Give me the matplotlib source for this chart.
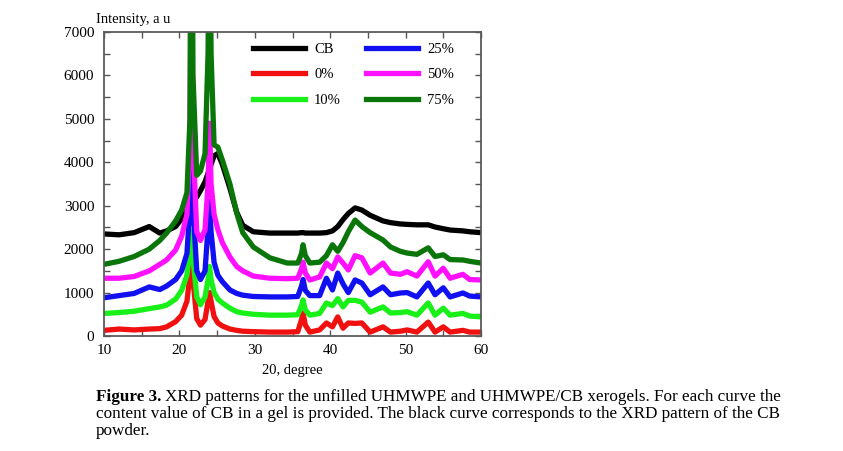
import numpy as np
import matplotlib.pyplot as plt
from matplotlib.ticker import MultipleLocator

plt.rcParams['font.family'] = ['Liberation Serif', 'DejaVu Serif']

# 2theta grid (degree)
two_theta = [10, 12, 14, 16, 17.4, 18.3, 19.5, 20.3, 21.0, 21.4, 21.6, 21.8, 22.3, 22.8,
             23.4, 23.8, 24.0, 24.2, 24.6, 25.1, 25.7, 26.7, 27.6, 28.4, 29.8, 32, 34.3,
             35.7, 36.2, 36.4, 36.7, 37.3, 38.6, 39.5, 40.3, 41.0, 41.7, 42.4, 43.3, 44.2,
             45.3, 47.0, 48.0, 49.3, 50.2, 51.5, 53.0, 53.9, 55.0, 55.9, 57.6, 58.5, 60]

cb = [2350, 2330, 2380, 2520, 2370, 2420, 2520, 2700, 2900, 3000, 3050, 3100, 3200, 3350,
      3550, 3750, 3850, 3950, 4150, 4200, 3950, 3400, 2850, 2550, 2400, 2370, 2370,
      2370, 2380, 2380, 2370, 2370, 2370, 2380, 2420, 2520, 2680, 2820, 2950, 2900,
      2780, 2650, 2610, 2580, 2570, 2560, 2560, 2510, 2470, 2440, 2420, 2400, 2380]

p0 = [130, 160, 140, 160, 170, 210, 330, 480, 800, 1400, 2000, 1300, 400, 250,
      380, 800, 1000, 800, 450, 300, 230, 160, 130, 110, 100, 90, 90,
      100, 380, 530, 250, 90, 140, 300, 210, 440, 180, 300, 290, 300,
      90, 210, 90, 110, 140, 90, 320, 90, 210, 90, 130, 90, 90]

p10 = [520, 540, 570, 630, 670, 710, 850, 1050, 1400, 2000, 2400, 1800, 900, 720,
       900, 1300, 1600, 1300, 1000, 850, 760, 640, 560, 530, 500, 480, 480,
       490, 700, 830, 600, 480, 520, 760, 700, 860, 670, 820, 820, 780,
       550, 670, 530, 540, 560, 480, 760, 480, 640, 480, 520, 460, 440]

p25 = [880, 930, 980, 1130, 1070, 1150, 1300, 1500, 1900, 3000, 4200, 3000, 1500, 1300,
       1500, 2500, 3100, 2400, 1700, 1400, 1250, 1060, 980, 940, 910, 900, 900,
       910, 1150, 1300, 1050, 930, 930, 1330, 1060, 1450, 1200, 1000, 1290, 1220,
       950, 1130, 950, 990, 1000, 900, 1220, 950, 1110, 900, 990, 920, 900]

p50 = [1330, 1330, 1370, 1500, 1650, 1750, 1980, 2300, 2800, 4500, 9000, 4500, 2400, 2200,
       2450, 3500, 4900, 3500, 2800, 2450, 2150, 1820, 1600, 1500, 1380, 1330, 1320,
       1330, 1550, 1700, 1450, 1290, 1360, 1680, 1550, 1820, 1680, 1520, 1850, 1800,
       1450, 1680, 1450, 1420, 1480, 1380, 1710, 1380, 1560, 1330, 1420, 1300, 1290]

p75 = [1650, 1720, 1830, 2000, 2200, 2370, 2650, 2900, 3300, 5000, 14000, 6000, 3700, 3800,
       4200, 6500, 11000, 6500, 4400, 4350, 4050, 3500, 2830, 2380, 2050, 1800, 1680,
       1680, 1900, 2100, 1850, 1680, 1700, 1850, 2100, 1950, 2150, 2400, 2670, 2520,
       2380, 2210, 2050, 1950, 1910, 1880, 2030, 1830, 1870, 1760, 1750, 1720, 1680]

labels = ["CB", "0%", "10%", "25%", "50%", "75%"]
colors = ["#000000", "#f01010", "#18f018", "#1010f0", "#ff10ff", "#0a760a"]

fig = plt.figure(figsize=(8.43, 4.51), dpi=100)
ax = fig.add_axes([104 / 843, 1 - 336 / 451, 377 / 843, 304 / 451])

for y, lab, c in zip([cb, p0, p10, p25, p50, p75], labels, colors):
    ax.plot(two_theta, y, color=c, linewidth=3.8, label=lab, solid_joinstyle='round')

ax.set_xlim(10, 60)
ax.set_ylim(0, 7000)
ax.xaxis.set_major_locator(MultipleLocator(10))
ax.xaxis.set_minor_locator(MultipleLocator(5))
ax.yaxis.set_major_locator(MultipleLocator(1000))
ax.yaxis.set_minor_locator(MultipleLocator(500))
ax.tick_params(which='both', direction='in', top=True, right=True, labelsize=11,
               color='#555555', length=4, width=1)
ax.tick_params(axis='x', pad=6)
ax.tick_params(axis='y', pad=7)
for s in ax.spines.values():
    s.set_color('#5a5a5a')
    s.set_linewidth(1.3)

ax.set_xlabel("20, degree", fontsize=10.5, labelpad=5)
fig.text(96 / 843, 1 - 20 / 451, "Intensity, a u", fontsize=10.5, va='center', ha='left')

ax.legend(loc='upper left', bbox_to_anchor=(0.395, 0.965), ncol=2, frameon=False,
          fontsize=10.5, handlelength=3.6, handletextpad=0.6, columnspacing=1.7,
          labelspacing=0.85, borderpad=0, borderaxespad=0)

# caption
cap_size = 12.3
fig.canvas.draw()
r = fig.canvas.get_renderer()
t = fig.text(96 / 843, 1 - 397 / 451, "Figure 3.", fontsize=cap_size, fontweight='bold',
             va='center', ha='left')
w = t.get_window_extent(renderer=r).width / fig.bbox.width
fig.text(96 / 843 + w + 4 / 843, 1 - 397 / 451,
         "XRD patterns for the unfilled UHMWPE and UHMWPE/CB xerogels. For each curve the",
         fontsize=cap_size, va='center', ha='left')
fig.text(96 / 843, 1 - 414 / 451,
         "content value of CB in a gel is provided. The black curve corresponds to the XRD pattern of the CB",
         fontsize=cap_size, va='center', ha='left')
fig.text(96 / 843, 1 - 431 / 451, "powder.", fontsize=cap_size, va='center', ha='left')

fig.savefig("out.png", dpi=100)
